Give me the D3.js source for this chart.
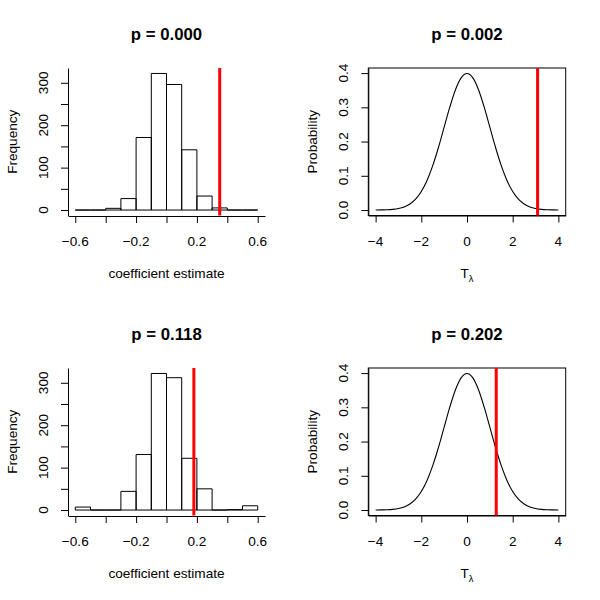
<!DOCTYPE html>
<html><head><meta charset="utf-8">
<script src="https://cdn.jsdelivr.net/npm/d3@7"></script>
<style>body{margin:0;background:#fff}svg{display:block}text{font-family:"Liberation Sans",Arial,Helvetica,sans-serif;fill:#000}</style>
</head><body>
<script>
// ---- data ----
const binEdges = [-0.6,-0.5,-0.4,-0.3,-0.2,-0.1,0.0,0.1,0.2,0.3,0.4,0.5,0.6];
const countsTop = [0,0,4,27,171,322,296,142,33,5,0,0];
const countsBottom = [7,0,0,44,131,322,312,122,50,0,1,10];
const histXTicks = [-0.6,-0.4,-0.2,0,0.2,0.4,0.6];
const histXLabels = [-0.6,-0.2,0.2,0.6];
const histYTicks = [0,50,100,150,200,250,300];
const histYLabels = [0,100,200,300];
const observedCoef = [0.35, 0.18];
const titlesLeft = ["p = 0.000","p = 0.118"];
const titlesRight = ["p = 0.002","p = 0.202"];
const densX = [-4,-3.75,-3.5,-3.25,-3,-2.75,-2.5,-2.25,-2,-1.75,-1.5,-1.25,-1,-0.75,-0.5,-0.25,0,0.25,0.5,0.75,1,1.25,1.5,1.75,2,2.25,2.5,2.75,3,3.25,3.5,3.75,4];
const densY = [0.0001,0.0004,0.0009,0.0020,0.0044,0.0091,0.0175,0.0317,0.0540,0.0863,0.1295,0.1826,0.2420,0.3011,0.3521,0.3867,0.3989,0.3867,0.3521,0.3011,0.2420,0.1826,0.1295,0.0863,0.0540,0.0317,0.0175,0.0091,0.0044,0.0020,0.0009,0.0004,0.0001];
const densXTicks = [-4,-2,0,2,4];
const densYTicks = [0,0.1,0.2,0.3,0.4];
const observedT = [3.09, 1.28];

const FS = 13.6, FT = 16.8;
const svg = d3.select("body").append("svg").attr("width",600).attr("height",600);

function yTickLabels(g, ticks, y, bx, fmt){
  g.selectAll(null).data(ticks).enter().append("text")
    .attr("transform", d=>`translate(${bx},${y(d)}) rotate(-90)`)
    .attr("text-anchor","middle").attr("font-size",FS).text(fmt);
}

function histPanel(oy, counts, obs, title){
  const L=68, R=265, T=68+oy, B=215.5+oy;
  const x = d3.scaleLinear().domain([-0.648,0.648]).range([L,R]);
  const m = d3.max(counts);
  const y = d3.scaleLinear().domain([-0.04*m, 1.04*m]).range([B,T]);
  const g = svg.append("g");
  const bins = counts.map((c,i)=>({x0:binEdges[i],x1:binEdges[i+1],c}));
  g.selectAll(null).data(bins).enter().append("path")
    .attr("d", d=>`M${x(d.x0)},${y(0)}V${y(d.c)}H${x(d.x1)}V${y(0)}Z`)
    .attr("fill","none").attr("stroke","#000").attr("stroke-width",1);
  const ax = g.append("g").attr("transform",`translate(0,${B+0.5})`)
    .call(d3.axisBottom(x).tickValues(histXTicks).tickSize(7).tickSizeOuter(0).tickFormat(""));
  ax.select(".domain").attr("stroke","#000");
  g.selectAll(null).data(histXLabels).enter().append("text")
    .attr("x",d=>x(d)).attr("y",246+oy).attr("text-anchor","middle").attr("font-size",FS)
    .text(d=>d3.format(".1f")(d).replace("-","\u2212"));
  g.append("g").attr("transform",`translate(${L},0)`)
    .call(d3.axisLeft(y).tickValues(histYTicks).tickSize(7).tickSizeOuter(0).tickFormat(""));
  yTickLabels(g, histYLabels, y, 48, d=>d);
  g.selectAll(".tick line").attr("stroke","#000");
  g.append("text").attr("x",(L+R)/2).attr("y",278+oy).attr("text-anchor","middle").attr("font-size",FS).text("coefficient estimate");
  g.append("text").attr("transform",`translate(17,${(T+B)/2}) rotate(-90)`).attr("text-anchor","middle").attr("font-size",FS).text("Frequency");
  g.append("text").attr("x",(L+R)/2).attr("y",40+oy).attr("text-anchor","middle").attr("font-size",FT).attr("font-weight","bold").text(title);
  g.append("line").attr("x1",x(obs)).attr("x2",x(obs)).attr("y1",T).attr("y2",B).attr("stroke","#ff0000").attr("stroke-width",3);
}

function densPanel(oy, obs, title){
  const L=368.3, R=565.7, T=68+oy, B=215.5+oy;
  const x = d3.scaleLinear().domain([-4.32,4.32]).range([L,R]);
  const y = d3.scaleLinear().domain([-0.016,0.4149]).range([B,T]);
  const g = svg.append("g");
  const pts = densX.map((v,i)=>[v,densY[i]]);
  g.append("path").datum(pts)
    .attr("d", d3.line().x(d=>x(d[0])).y(d=>y(d[1])).curve(d3.curveMonotoneX))
    .attr("fill","none").attr("stroke","#000").attr("stroke-width",1.1);
  g.append("g").attr("transform",`translate(0,${B})`)
    .call(d3.axisBottom(x).tickValues(densXTicks).tickSize(7).tickSizeOuter(0).tickFormat(""));
  g.selectAll(null).data(densXTicks).enter().append("text")
    .attr("x",d=>x(d)).attr("y",246+oy).attr("text-anchor","middle").attr("font-size",FS)
    .text(d=>String(d).replace("-","\u2212"));
  g.append("g").attr("transform",`translate(${L},0)`)
    .call(d3.axisLeft(y).tickValues(densYTicks).tickSize(7).tickSizeOuter(0).tickFormat(""));
  yTickLabels(g, densYTicks, y, 348, d=>d3.format(".1f")(d));
  g.append("rect").attr("x",L).attr("y",T).attr("width",R-L).attr("height",B-T)
    .attr("fill","none").attr("stroke","#000").attr("stroke-width",1);
  const xl = g.append("text").attr("x",(L+R)/2).attr("y",278+oy).attr("text-anchor","middle").attr("font-size",FS);
  xl.append("tspan").text("T");
  xl.append("tspan").attr("font-size",9.5).attr("dy",4).text("\u03bb");
  g.append("text").attr("transform",`translate(317,${(T+B)/2}) rotate(-90)`).attr("text-anchor","middle").attr("font-size",FS).text("Probability");
  g.append("text").attr("x",(L+R)/2).attr("y",40+oy).attr("text-anchor","middle").attr("font-size",FT).attr("font-weight","bold").text(title);
  g.append("line").attr("x1",x(obs)).attr("x2",x(obs)).attr("y1",T).attr("y2",B).attr("stroke","#ff0000").attr("stroke-width",3);
  g.selectAll(".tick line").attr("stroke","#000");
}

histPanel(0, countsTop, observedCoef[0], titlesLeft[0]);
histPanel(300, countsBottom, observedCoef[1], titlesLeft[1]);
densPanel(0, observedT[0], titlesRight[0]);
densPanel(300, observedT[1], titlesRight[1]);
</script>
</body></html>
